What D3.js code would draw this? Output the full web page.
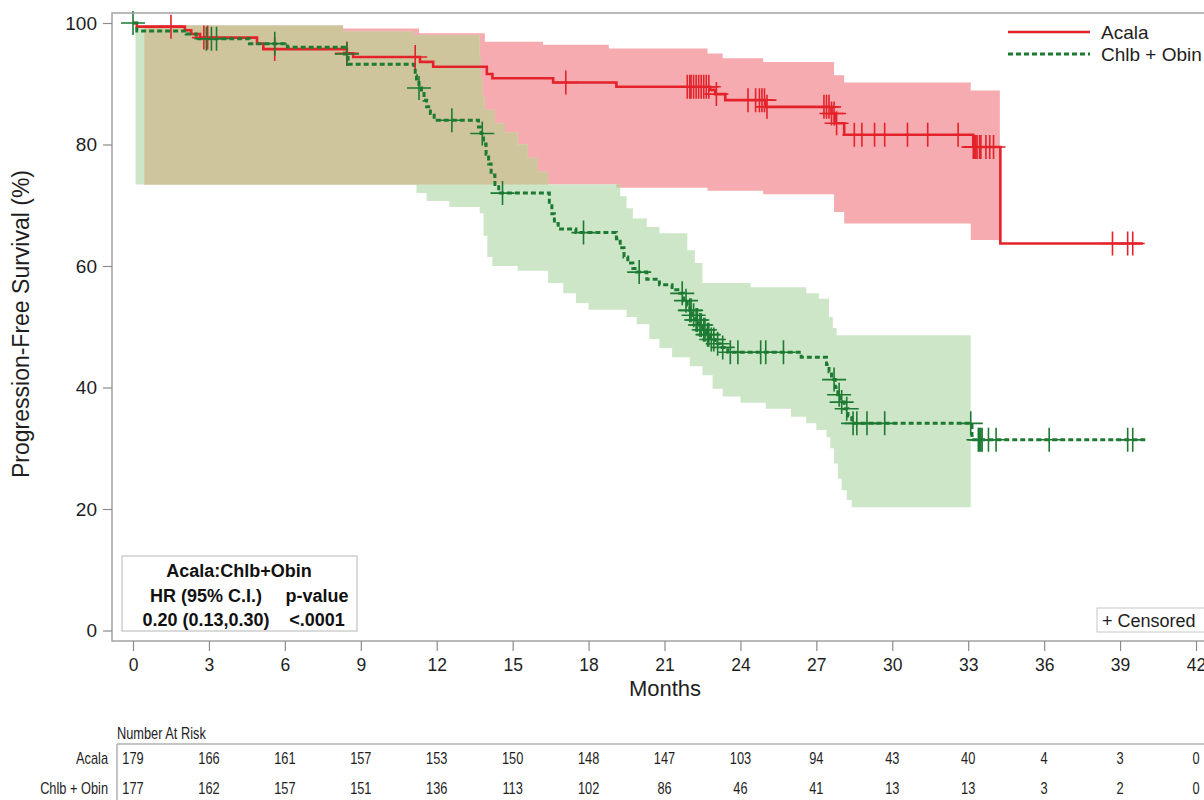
<!DOCTYPE html>
<html>
<head>
<meta charset="utf-8">
<script src="https://cdn.jsdelivr.net/npm/d3@7"></script>
<style>
  body { margin: 0; background: #fff; }
  svg { display: block; }
  text { font-family: "Liberation Sans", Arial, sans-serif; }
</style>
</head>
<body>
<svg id="chart" width="1204" height="800"></svg>
<script>
// ---- Kaplan-Meier estimates (months, % progression-free) ----
const acalaTimes = [0, 0.15, 2.05, 2.3, 2.65, 4.9, 5.15, 8.45, 8.7, 11.34, 11.86, 13.98, 14.2, 16.6, 19.1, 22.8, 23.0, 23.4, 25.0, 27.6, 27.75, 28.1, 33.2, 34.27];
const acalaSurv  = [100, 99.4, 98.8, 98.2, 97.6, 96.6, 95.7, 95.0, 94.4, 93.6, 92.8, 91.6, 90.9, 90.2, 89.5, 89.0, 88.3, 87.3, 86.2, 85.1, 83.5, 81.6, 79.6, 63.7];
const acalaEnd = 39.9;

const chlbTimes = [0, 0.15, 2.1, 2.5, 4.6, 6.1, 8.35, 8.5, 11.1, 11.15, 11.2, 11.3, 11.4, 11.5, 11.6, 11.75, 11.9, 13.65, 13.75, 13.85, 13.95, 14.05, 14.15, 14.3, 14.45, 16.45, 16.55, 16.65, 16.8, 17.5, 19.1, 19.25, 19.4, 19.55, 19.75, 19.9, 20.3, 20.8, 21.3, 21.6, 21.75, 21.9, 22.0, 22.1, 22.2, 22.35, 22.5, 22.65, 22.8, 23.0, 23.2, 23.5, 26.4, 27.4, 27.5, 27.6, 27.75, 27.85, 27.95, 28.1, 28.25, 28.4, 33.15];
const chlbSurv  = [100, 98.7, 98.2, 97.4, 96.6, 96.0, 94.9, 93.2, 92.5, 91.3, 90.2, 89.3, 88.4, 87.3, 86.2, 85.1, 84.0, 82.9, 81.8, 80.1, 78.4, 76.8, 75.0, 73.4, 72.0, 70.5, 68.6, 67.0, 66.1, 65.5, 64.5, 63.0, 61.5, 60.5, 59.6, 59.0, 57.8, 56.9, 56.1, 55.5, 54.3, 53.5, 52.7, 51.9, 51.1, 50.3, 49.5, 48.7, 47.9, 47.2, 46.6, 45.8, 45.0, 43.8, 42.6, 41.3, 40.0, 38.8, 37.6, 36.5, 35.3, 34.1, 31.4];
const chlbEnd = 40.0;

// ---- censoring times ----
const acalaCensor = [1.5, 2.8, 2.95, 5.6, 8.45, 11.15, 17.1, 21.9, 22.0, 22.05, 22.15, 22.25, 22.35, 22.45, 22.55, 22.65, 22.75, 23.05, 24.3, 24.6, 24.75, 24.85, 24.95, 25.05, 27.3, 27.4, 27.5, 27.6, 27.7, 27.8, 28.5, 28.8, 29.3, 29.7, 30.6, 31.4, 32.6, 33.2, 33.25, 33.3, 33.35, 33.45, 33.5, 33.7, 33.85, 34.0, 38.7, 39.3, 39.5];
const chlbCensor  = [0, 2.9, 3.1, 3.3, 5.6, 8.45, 11.3, 12.6, 13.8, 14.6, 17.8, 20.0, 21.7, 21.85, 22.0, 22.05, 22.15, 22.25, 22.3, 22.4, 22.45, 22.55, 22.6, 22.7, 22.75, 22.85, 22.95, 23.1, 23.3, 23.6, 23.9, 24.8, 25.0, 25.7, 27.7, 27.9, 28.0, 28.2, 28.45, 28.6, 29.0, 29.7, 33.1, 33.4, 33.45, 33.5, 33.55, 33.8, 34.1, 36.2, 39.3, 39.5];

// ---- confidence bands ----
const acalaUpperTimes = [0.45, 8.3, 11.3, 13.9, 16.2, 18.8, 22.7, 23.3, 24.9, 27.7, 28.1, 33.1];
const acalaUpper      = [99.6, 99.1, 98.3, 96.9, 96.4, 95.8, 95.0, 94.2, 93.6, 91.4, 90.2, 88.9];
const acalaLowerTimes = [0.45, 19.1, 22.7, 24.9, 27.7, 28.1, 33.1];
const acalaLower      = [73.4, 72.9, 72.4, 71.8, 68.9, 67.0, 64.3];
const acalaBandEnd = 34.25;

const chlbUpperTimes = [0.1, 8.3, 11.1, 13.7, 13.75, 13.8, 13.9, 14.3, 14.7, 15.2, 15.6, 16.0, 16.4, 19.25, 19.5, 19.75, 20.3, 20.8, 21.9, 22.2, 22.5, 24.4, 26.6, 27.1, 27.5, 27.65, 27.8];
const chlbUpper      = [99.6, 98.6, 98.0, 94.5, 91.0, 88.0, 85.7, 83.5, 82.0, 80.0, 77.8, 75.5, 73.4, 71.5, 69.5, 67.8, 66.4, 65.4, 62.6, 60.5, 57.2, 56.5, 55.5, 54.6, 51.6, 49.8, 48.6];
const chlbLowerTimes = [0.1, 11.2, 11.6, 12.5, 13.7, 13.85, 14.0, 14.2, 15.2, 16.4, 17.0, 17.5, 18.0, 19.5, 19.9, 20.4, 20.8, 21.3, 22.0, 22.5, 22.9, 23.3, 24.0, 25.0, 26.0, 26.6, 27.0, 27.4, 27.55, 27.7, 27.85, 28.0, 28.2, 28.4];
const chlbLower      = [73.4, 72.0, 70.7, 69.7, 68.7, 65.0, 61.5, 60.0, 59.2, 57.2, 55.5, 53.9, 52.8, 51.6, 50.4, 48.0, 46.5, 45.0, 43.5, 42.0, 39.8, 38.5, 37.5, 36.5, 35.2, 34.1, 33.0, 31.8, 30.0, 27.5, 25.0, 23.1, 21.5, 20.3];
const chlbBandEnd = 33.1;

// ---- axes and risk table ----
const xTicks = [0, 3, 6, 9, 12, 15, 18, 21, 24, 27, 30, 33, 36, 39, 42];
const yTicks = [0, 20, 40, 60, 80, 100];
const riskGroups = ["Acala", "Chlb + Obin"];
const riskAcala = [179, 166, 161, 157, 153, 150, 148, 147, 103, 94, 43, 40, 4, 3, 0];
const riskChlb  = [177, 162, 157, 151, 136, 113, 102, 86, 46, 41, 13, 13, 3, 2, 0];

const RED = "#e3222a", GREEN = "#1d7a33";
const PINK = "#f6abb0", LIGHTGREEN = "#cce6c7", OLIVE = "#cfc59c";
const TEXT = "#1e1e1e";

const svg = d3.select("#chart");
const x = d3.scaleLinear().domain([0, 42]).range([133, 1196]);
const y = d3.scaleLinear().domain([0, 100]).range([630.5, 23]);

const frameLeft = 112, frameTop = 13, frameBottom = 641;

// value of a right-continuous step function at time t
function stepAt(times, vals, t) {
  const i = d3.bisectRight(times, t) - 1;
  return i < 0 ? null : vals[i];
}

function bandPoints(uT, uV, lT, lV, end) {
  const grid = Array.from(new Set([...uT, ...lT, end])).sort((a, b) => a - b);
  return grid.map(t => ({ t, lo: stepAt(lT, lV, t), hi: stepAt(uT, uV, t) }));
}

const area = d3.area()
  .curve(d3.curveStepAfter)
  .x(d => x(d.t)).y0(d => y(d.lo)).y1(d => y(d.hi));

const plot = svg.append("g");

// confidence bands
const acalaBand = bandPoints(acalaUpperTimes, acalaUpper, acalaLowerTimes, acalaLower, acalaBandEnd);
const chlbBand = bandPoints(chlbUpperTimes, chlbUpper, chlbLowerTimes, chlbLower, chlbBandEnd);
plot.append("path").attr("d", area(acalaBand)).attr("fill", PINK);
plot.append("path").attr("d", area(chlbBand)).attr("fill", LIGHTGREEN);

// where both bands cover the same survival range
const ovStart = Math.max(acalaUpperTimes[0], chlbUpperTimes[0]);
const ovEnd = Math.min(acalaBandEnd, chlbBandEnd);
const ovGrid = Array.from(new Set([...acalaUpperTimes, ...acalaLowerTimes, ...chlbUpperTimes, ...chlbLowerTimes, ovEnd]))
  .filter(t => t >= ovStart && t <= ovEnd).sort((a, b) => a - b);
const overlap = ovGrid.map(t => {
  const lo = Math.max(stepAt(acalaLowerTimes, acalaLower, t), stepAt(chlbLowerTimes, chlbLower, t));
  const hi = Math.min(stepAt(acalaUpperTimes, acalaUpper, t), stepAt(chlbUpperTimes, chlbUpper, t));
  return { t, lo, hi: Math.max(lo, hi) };
});
plot.append("path").attr("d", area(overlap)).attr("fill", OLIVE);

// frame
svg.append("rect")
  .attr("x", frameLeft).attr("y", frameTop)
  .attr("width", 1300).attr("height", frameBottom - frameTop)
  .attr("fill", "none").attr("stroke", "#a3a3a3").attr("stroke-width", 1.5);

// survival curves
const line = d3.line().curve(d3.curveStepAfter).x(d => x(d[0])).y(d => y(d[1]));
function curvePoints(times, vals, end) {
  const pts = times.map((t, i) => [t, vals[i]]);
  pts.push([end, vals[vals.length - 1]]);
  return pts;
}
plot.append("path").attr("d", line(curvePoints(acalaTimes, acalaSurv, acalaEnd)))
  .attr("fill", "none").attr("stroke", RED).attr("stroke-width", 2.6);
plot.append("path").attr("d", line(curvePoints(chlbTimes, chlbSurv, chlbEnd)))
  .attr("fill", "none").attr("stroke", GREEN).attr("stroke-width", 3).attr("stroke-dasharray", "5,3");

// censor marks
function censorMarks(times, kmT, kmV, color) {
  plot.append("g").selectAll("path").data(times).join("path")
    .attr("d", t => {
      const cx = x(t), cy = y(stepAt(kmT, kmV, t));
      return `M${cx - 12},${cy}H${cx + 12}M${cx},${cy - 12}V${cy + 12}`;
    })
    .attr("fill", "none").attr("stroke", color).attr("stroke-width", 1.6);
}
censorMarks(acalaCensor, acalaTimes, acalaSurv, RED);
censorMarks(chlbCensor, chlbTimes, chlbSurv, GREEN);

// x axis
const xAxis = svg.append("g").attr("transform", `translate(0,${frameBottom})`)
  .call(d3.axisBottom(x).tickValues(xTicks).tickSize(10).tickPadding(8).tickFormat(d3.format("d")));
xAxis.select(".domain").remove();
xAxis.selectAll("line").attr("stroke", "#8c8c8c").attr("stroke-width", 1.2);
xAxis.selectAll("text").attr("font-size", 17.5).attr("fill", TEXT)
  .attr("font-family", "'Liberation Sans', Arial, sans-serif");

// y axis
const yAxis = svg.append("g").attr("transform", `translate(${frameLeft},0)`)
  .call(d3.axisLeft(y).tickValues(yTicks).tickSize(9).tickPadding(6).tickFormat(d3.format("d")));
yAxis.select(".domain").remove();
yAxis.selectAll("line").attr("stroke", "#8c8c8c").attr("stroke-width", 1.2);
yAxis.selectAll("text").attr("font-size", 19).attr("fill", TEXT)
  .attr("font-family", "'Liberation Sans', Arial, sans-serif");

// axis titles
svg.append("text").attr("x", 665).attr("y", 696).attr("text-anchor", "middle")
  .attr("font-size", 22).attr("fill", TEXT).text("Months");
svg.append("text").attr("transform", "translate(29,324) rotate(-90)").attr("text-anchor", "middle")
  .attr("font-size", 23).attr("fill", TEXT).text("Progression-Free Survival (%)");

// legend
const legend = svg.append("g");
const legendItems = [
  { name: "Acala", color: RED, dash: null, ly: 32 },
  { name: "Chlb + Obin", color: GREEN, dash: "5,3", ly: 54 }
];
legendItems.forEach(d => {
  legend.append("line").attr("x1", 1008).attr("x2", 1090).attr("y1", d.ly).attr("y2", d.ly)
    .attr("stroke", d.color).attr("stroke-width", d.dash ? 3 : 2.6).attr("stroke-dasharray", d.dash);
  legend.append("text").attr("x", 1101).attr("y", d.ly + 7).attr("font-size", 19).attr("fill", TEXT).text(d.name);
});

// hazard ratio box
const hr = svg.append("g").attr("font-weight", "bold").attr("font-size", 18).attr("fill", "#111");
hr.append("rect").attr("x", 122).attr("y", 556).attr("width", 235).attr("height", 75)
  .attr("fill", "#fff").attr("stroke", "#b5b5b5").attr("stroke-width", 1);
hr.append("text").attr("x", 239).attr("y", 577).attr("text-anchor", "middle").text("Acala:Chlb+Obin");
hr.append("text").attr("x", 206).attr("y", 602).attr("text-anchor", "middle").text("HR (95% C.I.)");
hr.append("text").attr("x", 317).attr("y", 602).attr("text-anchor", "middle").text("p-value");
hr.append("text").attr("x", 206).attr("y", 626).attr("text-anchor", "middle").text("0.20 (0.13,0.30)");
hr.append("text").attr("x", 317).attr("y", 626).attr("text-anchor", "middle").text("<.0001");

// censored key
svg.append("rect").attr("x", 1097).attr("y", 608).attr("width", 140).attr("height", 24)
  .attr("fill", "#fff").attr("stroke", "#c8c8c8").attr("stroke-width", 1);
svg.append("text").attr("x", 1102).attr("y", 627).attr("font-size", 18).attr("fill", TEXT).text("+ Censored");

// number at risk table (condensed lettering)
const risk = svg.append("g").attr("font-size", 16).attr("fill", TEXT);
function narrowText(g, tx, ty, anchor, str) {
  g.append("text").attr("transform", `translate(${tx},${ty}) scale(0.8,1)`)
    .attr("text-anchor", anchor).text(str);
}
narrowText(risk, 117, 739, "start", "Number At Risk");
risk.append("line").attr("x1", 117).attr("x2", 1210).attr("y1", 744).attr("y2", 744)
  .attr("stroke", "#b0b0b0").attr("stroke-width", 1.5);
risk.append("line").attr("x1", 117).attr("x2", 117).attr("y1", 744).attr("y2", 800)
  .attr("stroke", "#b0b0b0").attr("stroke-width", 1.5);
const riskRows = [riskAcala, riskChlb];
riskRows.forEach((row, r) => {
  const ry = 764 + r * 30;
  narrowText(risk, 108, ry, "end", riskGroups[r]);
  row.forEach((v, i) => narrowText(risk, x(xTicks[i]), ry, "middle", String(v)));
});
</script>
</body>
</html>
